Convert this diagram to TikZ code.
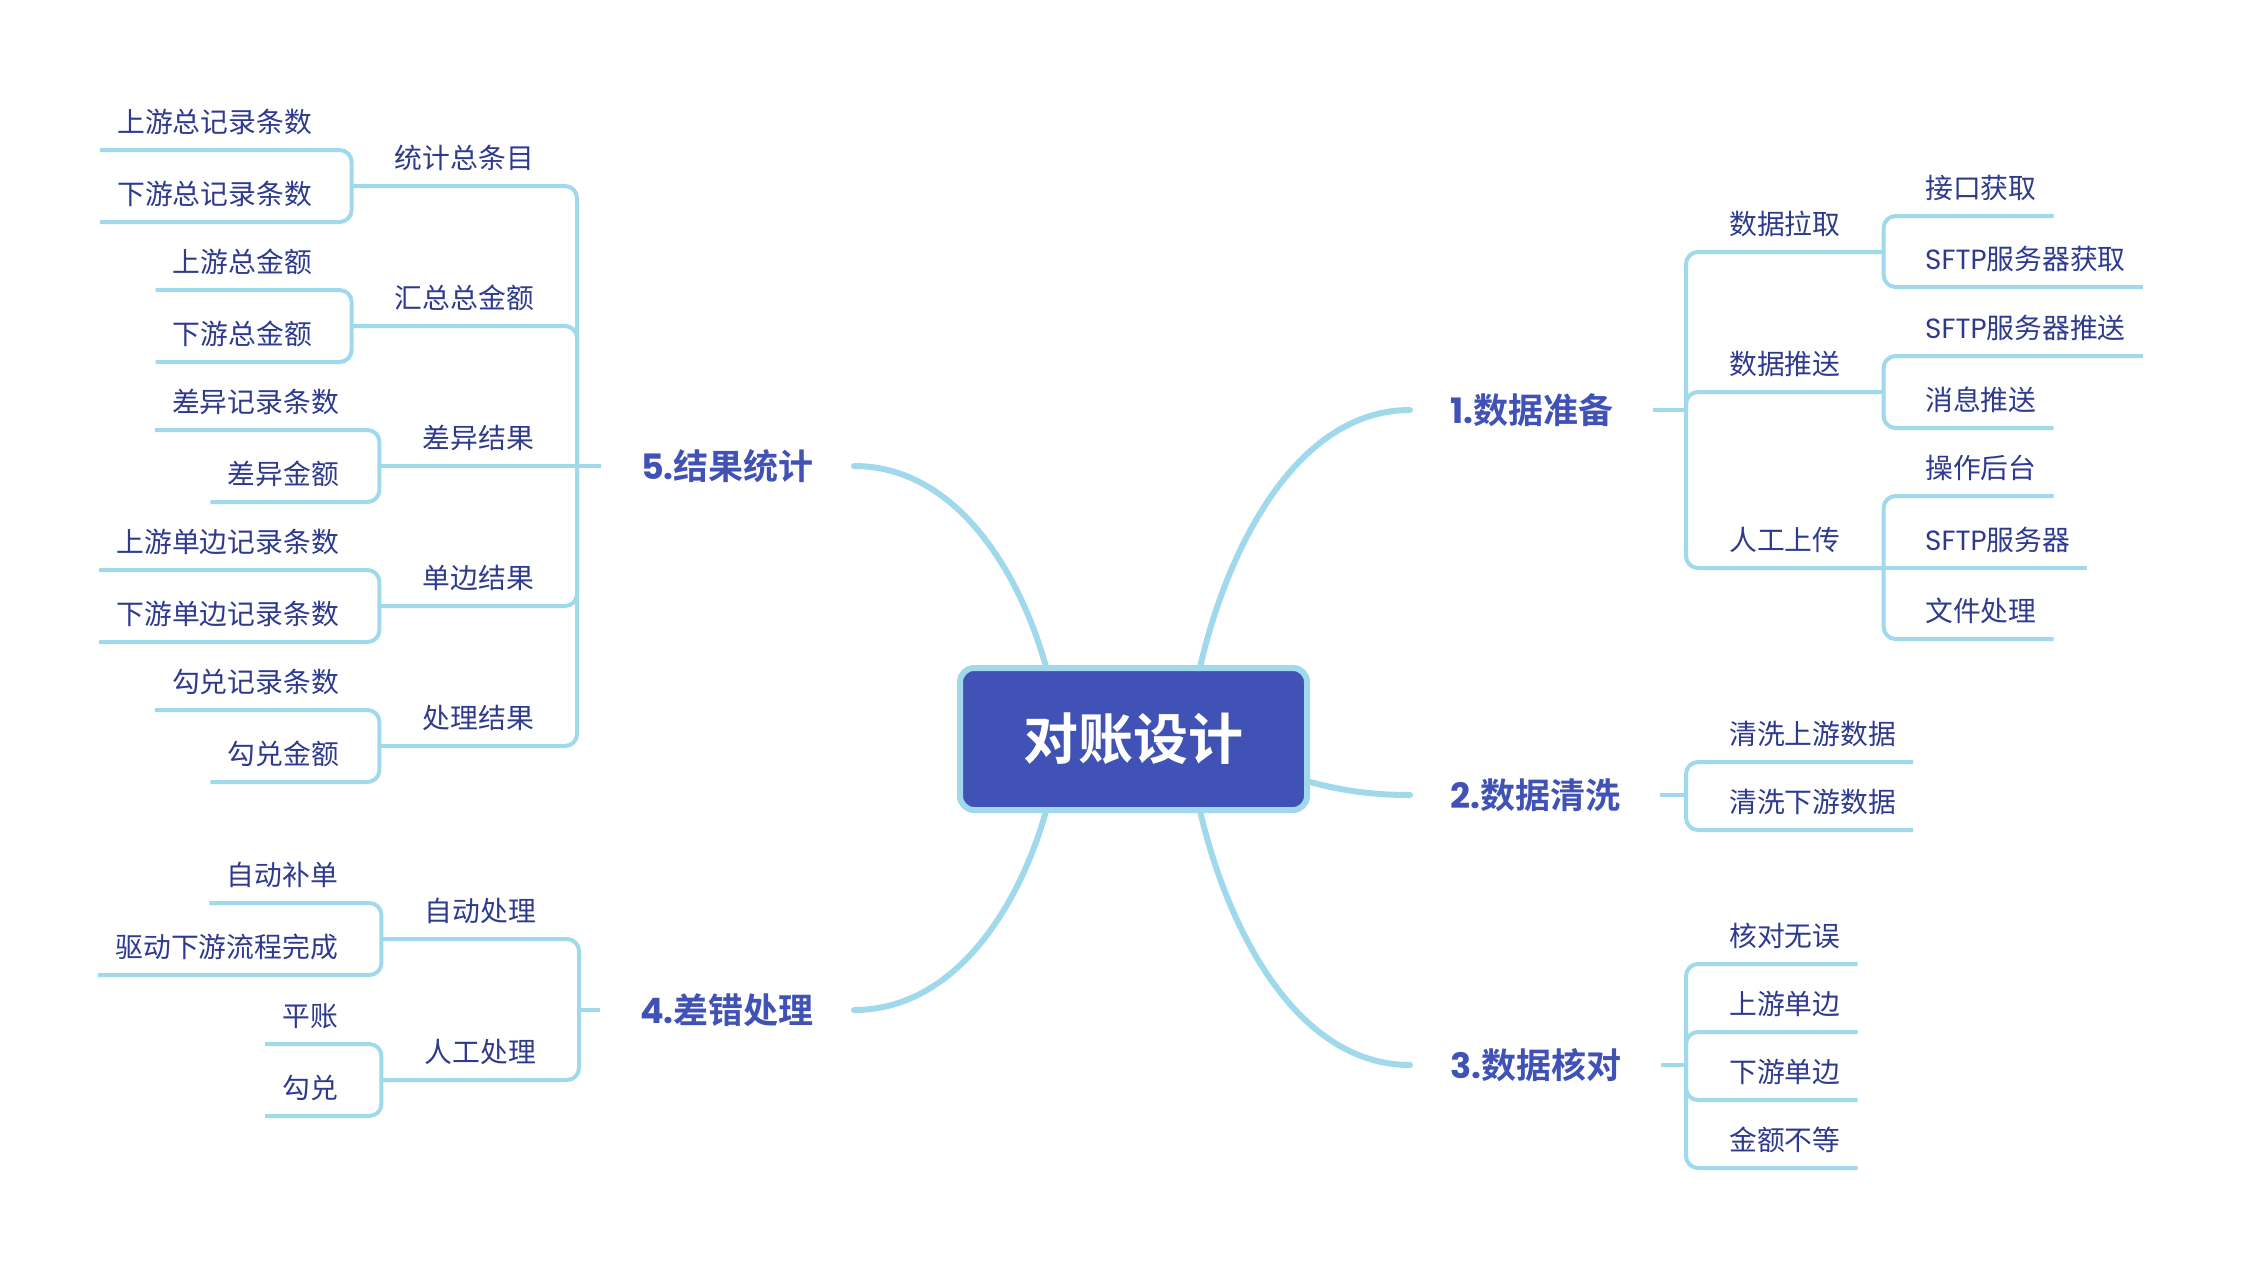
\documentclass[tikz,border=0pt]{standalone}
\usepackage{fontspec}
\setmainfont{Noto Sans CJK SC}[BoldFont={Noto Sans CJK SC Bold}]
\newfontfamily\latinf{Poppins}
\usepackage{tikz}
\definecolor{rootblue}{RGB}{64,82,181}
\definecolor{leafblue}{RGB}{46,58,142}
\definecolor{linkblue}{RGB}{161,217,236}

\begin{document}
\begin{tikzpicture}[x=1pt,y=-1pt,
link/.style={draw=linkblue,line width=4pt,rounded corners=12pt},
trunk/.style={draw=linkblue,line width=6pt,line cap=round},
root/.style={draw=linkblue,fill=rootblue,line width=6pt,rounded corners=14pt,minimum width=347pt,minimum height=142pt,text=white,font=\fontsize{55}{60}\selectfont\bfseries},
topic/.style={inner xsep=40pt,inner ysep=0pt,text=rootblue,font=\fontsize{35}{40}\selectfont\bfseries},
sub/.style={inner xsep=43pt,inner ysep=0pt,text depth=17.5pt,text=leafblue,font=\fontsize{27.8}{32}\selectfont},
leaf/.style={sub,inner xsep=17pt}]
\useasboundingbox (0,0) rectangle (2246,1270);

% centre and the five main topics
\node[root] (root) at (1133.5,739) {对账设计};
\node[topic,anchor=west] (m1) at (1410,410) {{\latinf 1.}数据准备};
\node[topic,anchor=west] (m2) at (1410,795) {{\latinf 2.}数据清洗};
\node[topic,anchor=west] (m3) at (1410,1065) {{\latinf 3.}数据核对};
\node[topic,anchor=east] (m4) at (854,1010) {{\latinf 4.}差错处理};
\node[topic,anchor=east] (m5) at (854,466) {{\latinf 5.}结果统计};

\draw[trunk] ([xshift=67pt]root.north) .. controls (1230,540) and (1300,410) .. (m1.west);
\draw[trunk] ([yshift=-43pt]root.east) .. controls (1340,790) and (1370,795) .. (m2.west);
\draw[trunk] ([xshift=67pt]root.south) .. controls (1230,937) and (1300,1065) .. (m3.west);
\draw[trunk] ([xshift=-88pt]root.south) .. controls (1018,909) and (954,1010) .. (m4.east);
\draw[trunk] ([xshift=-88pt]root.north) .. controls (1018,568) and (954,466) .. (m5.east);

\coordinate (b1) at (1686,410);
\coordinate (b2) at (1686,795);
\coordinate (b3) at (1686,1065);
\coordinate (b4) at (579,1010);
\coordinate (b5) at (577,466);
\draw[link] (m1.east) -- (b1);
\draw[link] (m2.east) -- (b2);
\draw[link] (m3.east) -- (b3);
\draw[link] (m4.west) -- (b4);
\draw[link] (m5.west) -- (b5);

% 1. 数据准备
\node[sub,anchor=south west] (pull) at (1686,252) {数据拉取};
\node[sub,anchor=south west] (push) at (1686,392) {数据推送};
\node[sub,anchor=south west] (upload) at (1686,568) {人工上传};
\draw[link] (b1) |- (pull.south east);
\draw[link] (b1) |- (push.south east);
\draw[link] (b1) |- (upload.south east);
\node[leaf,anchor=south west] (api) at (1908,216) {接口获取};
\node[leaf,anchor=south west] (sftpget) at (1908,287) {{\latinf SFTP}服务器获取};
\node[leaf,anchor=south west] (sftppush) at (1908,356) {{\latinf SFTP}服务器推送};
\node[leaf,anchor=south west] (msg) at (1908,428) {消息推送};
\node[leaf,anchor=south west] (admin) at (1908,496) {操作后台};
\node[leaf,anchor=south west] (sftp) at (1908,568) {{\latinf SFTP}服务器};
\node[leaf,anchor=south west] (file) at (1908,639) {文件处理};
\draw[link] (pull.south east) |- (api.south east);
\draw[link] (pull.south east) |- (sftpget.south east);
\draw[link] (push.south east) |- (sftppush.south east);
\draw[link] (push.south east) |- (msg.south east);
\draw[link] (upload.south east) |- (admin.south east);
\draw[link] (upload.south east) -- (sftp.south east);
\draw[link] (upload.south east) |- (file.south east);

% 2. 数据清洗
\node[leaf,anchor=south west] (cleanup) at (1712,762) {清洗上游数据};
\node[leaf,anchor=south west] (cleandown) at (1712,830) {清洗下游数据};
\draw[link] (b2) |- (cleanup.south east);
\draw[link] (b2) |- (cleandown.south east);

% 3. 数据核对
\node[leaf,anchor=south west] (ok) at (1712,964) {核对无误};
\node[leaf,anchor=south west] (uponly) at (1712,1032) {上游单边};
\node[leaf,anchor=south west] (downonly) at (1712,1100) {下游单边};
\node[leaf,anchor=south west] (amtdiff) at (1712,1168) {金额不等};
\draw[link] (b3) |- (ok.south east);
\draw[link] (b3) |- (uponly.south east);
\draw[link] (b3) |- (downonly.south east);
\draw[link] (b3) |- (amtdiff.south east);

% 4. 差错处理
\node[sub,anchor=south east] (auto) at (579,939) {自动处理};
\node[sub,anchor=south east] (manual) at (579,1080) {人工处理};
\draw[link] (b4) |- (auto.south west);
\draw[link] (b4) |- (manual.south west);
\node[leaf,anchor=south east] (fill) at (355,903) {自动补单};
\node[leaf,anchor=south east] (drive) at (355,975) {驱动下游流程完成};
\node[leaf,anchor=south east] (flat) at (355,1044) {平账};
\node[leaf,anchor=south east] (match) at (355,1116) {勾兑};
\draw[link] (auto.south west) |- (fill.south west);
\draw[link] (auto.south west) |- (drive.south west);
\draw[link] (manual.south west) |- (flat.south west);
\draw[link] (manual.south west) |- (match.south west);

% 5. 结果统计
\node[sub,anchor=south east] (count) at (577,186) {统计总条目};
\node[sub,anchor=south east] (sum) at (577,326) {汇总总金额};
\node[sub,anchor=south east] (diff) at (577,466) {差异结果};
\node[sub,anchor=south east] (single) at (577,606) {单边结果};
\node[sub,anchor=south east] (done) at (577,746) {处理结果};
\draw[link] (b5) |- (count.south west);
\draw[link] (b5) |- (sum.south west);
\draw[link] (b5) -- (diff.south west);
\draw[link] (b5) |- (single.south west);
\draw[link] (b5) |- (done.south west);
\node[leaf,anchor=south east] (upcount) at (329,150) {上游总记录条数};
\node[leaf,anchor=south east] (downcount) at (329,222) {下游总记录条数};
\node[leaf,anchor=south east] (upsum) at (329,290) {上游总金额};
\node[leaf,anchor=south east] (downsum) at (329,362) {下游总金额};
\node[leaf,anchor=south east] (diffcount) at (356,430) {差异记录条数};
\node[leaf,anchor=south east] (diffamt) at (356,502) {差异金额};
\node[leaf,anchor=south east] (upsingle) at (356,570) {上游单边记录条数};
\node[leaf,anchor=south east] (downsingle) at (356,642) {下游单边记录条数};
\node[leaf,anchor=south east] (matchcount) at (356,710) {勾兑记录条数};
\node[leaf,anchor=south east] (matchamt) at (356,782) {勾兑金额};
\draw[link] (count.south west) |- (upcount.south west);
\draw[link] (count.south west) |- (downcount.south west);
\draw[link] (sum.south west) |- (upsum.south west);
\draw[link] (sum.south west) |- (downsum.south west);
\draw[link] (diff.south west) |- (diffcount.south west);
\draw[link] (diff.south west) |- (diffamt.south west);
\draw[link] (single.south west) |- (upsingle.south west);
\draw[link] (single.south west) |- (downsingle.south west);
\draw[link] (done.south west) |- (matchcount.south west);
\draw[link] (done.south west) |- (matchamt.south west);
\end{tikzpicture}
\end{document}
